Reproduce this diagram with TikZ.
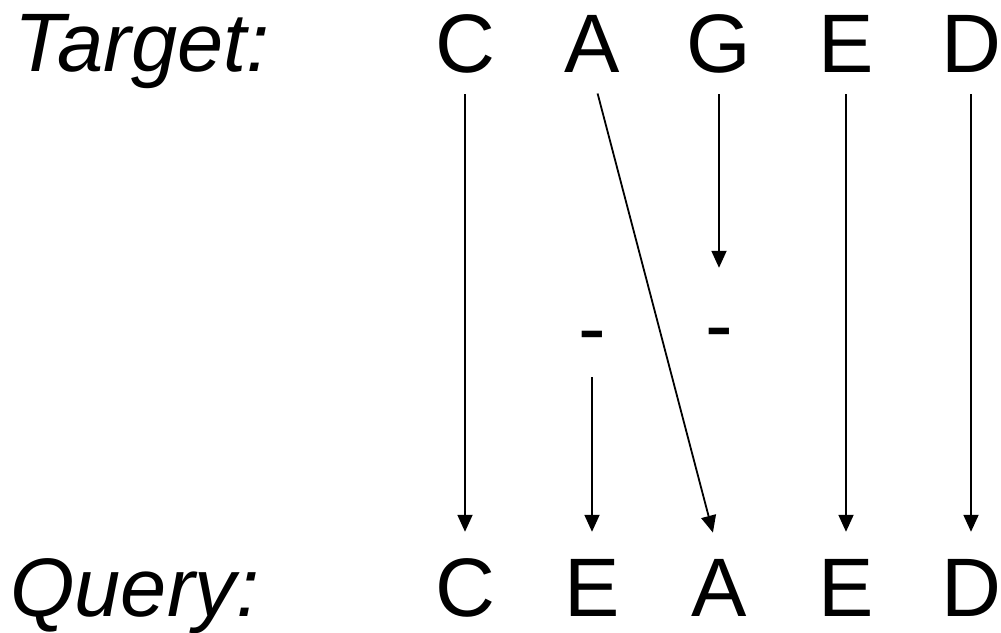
\documentclass[tikz,border=0pt]{standalone}
\usepackage{fontspec}
\setmainfont{Liberation Sans}
\usepackage{tikz}
\usetikzlibrary{arrows.meta}

\begin{document}
\begin{tikzpicture}[x=1pt,y=-1pt,
	seq/.style={font=\fontsize{83}{90}\selectfont,inner sep=0pt,anchor=base,text height=60pt,text depth=0pt},
	gap/.style={font=\fontsize{83}{90}\selectfont,inner sep=0pt,anchor=base,text height=29pt,text depth=0pt},
	link/.style={line width=1.8pt,-{Triangle[length=17pt,width=15pt]},shorten <=22pt,shorten >=24pt}]
	\useasboundingbox (0,0) rectangle (1001,632);
	\node [seq,anchor=base west] (tlabel) at (14,71) {\itshape Target:};
	\node [seq,anchor=base west] (qlabel) at (10,616) {\itshape Query:};
	\node [seq] (t1) at (465,72) {C};
	\node [seq] (t2) at (592,72) {A};
	\node [seq] (t3) at (719,72) {G};
	\node [seq] (t4) at (846,72) {E};
	\node [seq] (t5) at (971,72) {D};
	\node [seq] (q1) at (465,616) {C};
	\node [seq] (q2) at (592,616) {E};
	\node [seq] (q3) at (719,616) {A};
	\node [seq] (q4) at (846,616) {E};
	\node [seq] (q5) at (971,616) {D};
	\node [gap] (gap2) at (592,356) {-};
	\node [gap] (gap3) at (719,353) {-};
	\draw [link] (t1.south) -- (q1.north);
	\draw [link] (t2.south) -- (q3.north);
	\draw [link,shorten >=56pt] (t3.south) -- (gap3.north);
	\draw [link,shorten <=21pt] (gap2.south) -- (q2.north);
	\draw [link] (t4.south) -- (q4.north);
	\draw [link] (t5.south) -- (q5.north);
\end{tikzpicture}
\end{document}
